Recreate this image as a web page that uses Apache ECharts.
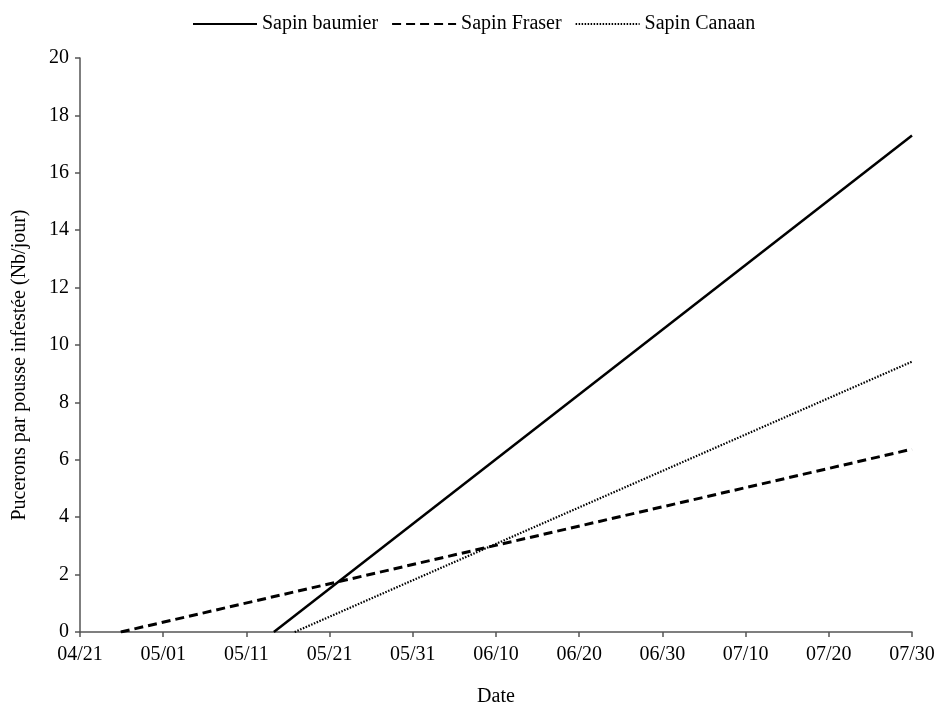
<!DOCTYPE html>
<html>
<head>
<meta charset="utf-8">
<script src="https://cdn.jsdelivr.net/npm/echarts@6/dist/echarts.min.js"></script>
<style>
  html, body { margin: 0; padding: 0; background: #fff; }
  #container { width: 935px; height: 704px; }
</style>
</head>
<body>
<div id="container"></div>
<script>
"use strict";

// x en jours depuis le 04/21
const tickLabels = ['04/21', '05/01', '05/11', '05/21', '05/31', '06/10', '06/20', '06/30', '07/10', '07/20', '07/30'];
const seriesNames = ['Sapin baumier', 'Sapin Fraser', 'Sapin Canaan'];
const baumierDays = [23.3, 100];
const baumierValues = [0, 17.3];
const fraserDays = [4.9, 100];
const fraserValues = [0, 6.37];
const canaanDays = [25.8, 100];
const canaanValues = [0, 9.42];

function pairs(xs, ys) {
  return xs.map((x, i) => [x, ys[i]]);
}

let myChart = echarts.init(document.getElementById('container'));
const font = 'Liberation Serif, Times New Roman, serif';

let option = {
  animation: false,
  textStyle: { fontFamily: font },
  legend: {
    top: 9,
    left: 187,
    itemWidth: 64,
    itemHeight: 12,
    itemGap: 13,
    itemStyle: { opacity: 0 },
    textStyle: { fontFamily: font, fontSize: 20, color: '#000' },
    data: seriesNames,
  },
  grid: {
    left: 80,
    right: 23,
    top: 58,
    bottom: 72,
    outerBoundsMode: 'none',
  },
  xAxis: {
    type: 'value',
    min: 0,
    max: 100,
    interval: 10,
    name: 'Date',
    nameLocation: 'middle',
    nameGap: 55,
    nameTextStyle: { fontFamily: font, fontSize: 20, color: '#000' },
    axisLine: { show: true, lineStyle: { color: '#555', width: 1.5 } },
    axisTick: { show: true, length: 5, lineStyle: { color: '#555', width: 1.5 } },
    axisLabel: {
      fontFamily: font, fontSize: 20, color: '#000', margin: 13,
      formatter: (v) => tickLabels[Math.round(v / 10)],
    },
    splitLine: { show: false },
  },
  yAxis: {
    type: 'value',
    min: 0,
    max: 20,
    interval: 2,
    name: 'Pucerons par pousse infestée (Nb/jour)',
    nameLocation: 'middle',
    nameGap: 50,
    nameTextStyle: { fontFamily: font, fontSize: 20, color: '#000', padding: [0, 40, 0, 0] },
    axisLine: { show: true, lineStyle: { color: '#555', width: 1.5 } },
    axisTick: { show: true, length: 5, lineStyle: { color: '#555', width: 1.5 } },
    axisLabel: { fontFamily: font, fontSize: 20, color: '#000', margin: 11 },
    splitLine: { show: false },
  },
  series: [
    {
      name: seriesNames[0],
      type: 'line',
      symbol: 'none',
      data: pairs(baumierDays, baumierValues),
      lineStyle: { color: '#000', width: 2.5, type: 'solid' },
      itemStyle: { color: '#000' },
    },
    {
      name: seriesNames[1],
      type: 'line',
      symbol: 'none',
      data: pairs(fraserDays, fraserValues),
      lineStyle: { color: '#000', width: 3, type: [9, 5] },
      itemStyle: { color: '#000' },
    },
    {
      name: seriesNames[2],
      type: 'line',
      symbol: 'none',
      data: pairs(canaanDays, canaanValues),
      lineStyle: { color: '#000', width: 2.2, type: [1.5, 1.5] },
      itemStyle: { color: '#000' },
    },
  ],
};

myChart.setOption(option);
</script>
</body>
</html>
